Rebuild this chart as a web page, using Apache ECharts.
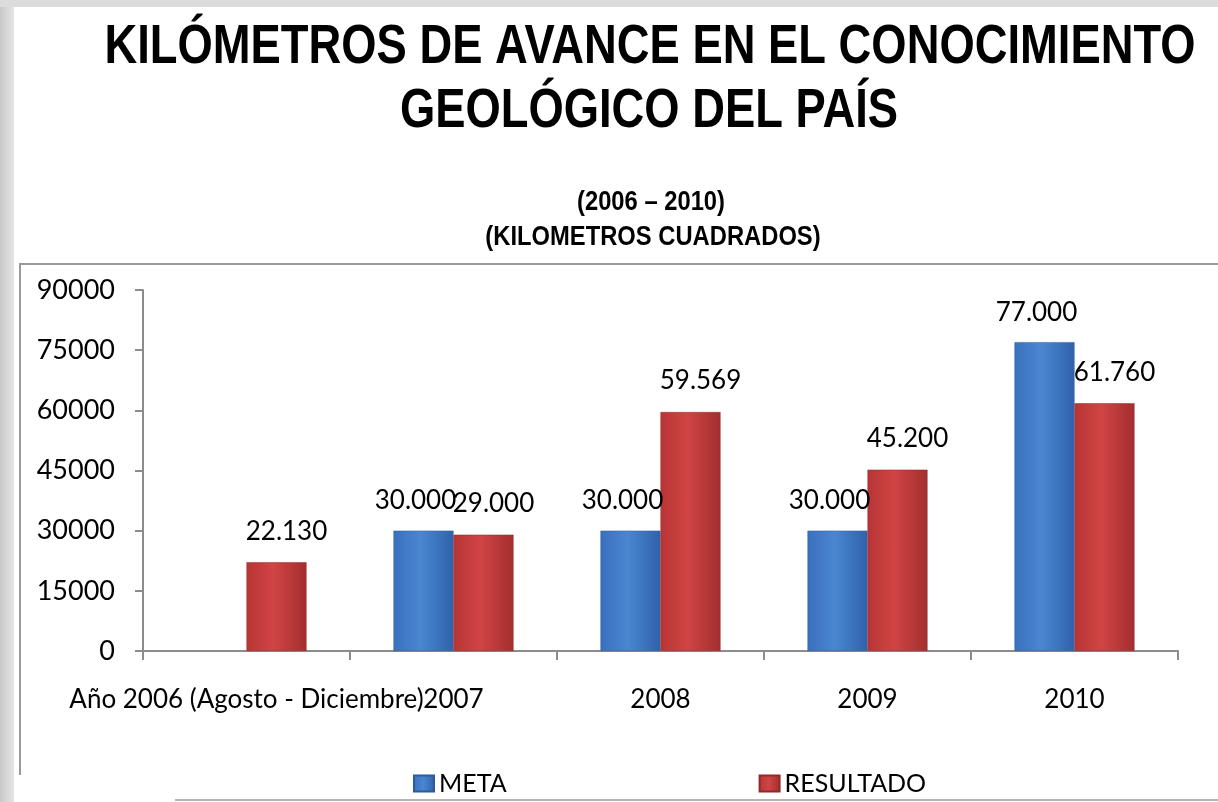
<!DOCTYPE html>
<html>
<head>
<meta charset="utf-8">
<script src="https://cdn.jsdelivr.net/npm/echarts@6/dist/echarts.min.js"></script>
<style>
html,body{margin:0;padding:0;background:#fff;}
#chart{width:1218px;height:802px;}
</style>
</head>
<body>
<div id="chart"></div>
<script>
const categories = ['Año 2006 (Agosto - Diciembre)', '2007', '2008', '2009', '2010'];
const metaValues = [null, 30000, 30000, 30000, 77000];
const resultadoValues = [22130, 29000, 59569, 45200, 61760];
const yTicks = { min: 0, max: 90000, interval: 15000 };
const titleLines = ['KILÓMETROS DE AVANCE EN EL CONOCIMIENTO', 'GEOLÓGICO DEL PAÍS'];
const subtitleLines = ['(2006 – 2010)', '(KILOMETROS CUADRADOS)'];

const fmt = v => {
  if (v == null) return '';
  return String(v).replace(/\B(?=(\d{3})+(?!\d))/g, '.');
};
const labelFont = 'Lato, "Open Sans", sans-serif';
const titleFont = '"Liberation Sans", Arial, sans-serif';

const blueGrad = new echarts.graphic.LinearGradient(0, 0, 1, 0, [
  {offset: 0, color: '#3a70bd'},
  {offset: 0.45, color: '#4a86d2'},
  {offset: 1, color: '#2f62aa'}
]);
const redGrad = new echarts.graphic.LinearGradient(0, 0, 1, 0, [
  {offset: 0, color: '#b83535'},
  {offset: 0.45, color: '#d04444'},
  {offset: 1, color: '#a32e2e'}
]);

function titleText(txt, x, y, size, sx) {
  return {
    type: 'text', x: x, y: y, scaleX: sx, originX: 0, originY: 0, z: 5,
    style: {text: txt, font: 'bold ' + size + 'px ' + titleFont, fill: '#000', align: 'center', verticalAlign: 'top'}
  };
}

const chart = echarts.init(document.getElementById('chart'), null, {renderer: 'canvas'});
chart.setOption({
  backgroundColor: '#ffffff',
  animation: false,
  graphic: [
    {type: 'rect', shape: {x: 0, y: 0, width: 14, height: 802}, style: {fill: new echarts.graphic.LinearGradient(0,0,1,0,[{offset:0,color:'#c8c8c8'},{offset:1,color:'#e6e6e6'}])}, z: 0},
    {type: 'rect', shape: {x: 0, y: 0, width: 1218, height: 7}, style: {fill: '#dcdcdc'}, z: 0},
    {type: 'polyline', shape: {points: [[20, 775], [20, 264], [1218, 264]]}, style: {stroke: '#9a9a9a', lineWidth: 2, fill: null}, z: 1},
    {type: 'line', shape: {x1: 175, y1: 800, x2: 1218, y2: 800}, style: {stroke: '#b5b5b5', lineWidth: 2}, z: 1},
    titleText(titleLines[0], 650, 20, 56, 0.81),
    titleText(titleLines[1], 649, 84, 56, 0.81),
    titleText(subtitleLines[0], 651, 189, 27, 0.88),
    titleText(subtitleLines[1], 653, 224, 27, 0.88)
  ],
  grid: {left: 143, right: 40, top: 290, bottom: 151, containLabel: false},
  legend: {
    bottom: 1,
    left: 408,
    itemGap: 252,
    itemWidth: 20,
    itemHeight: 16,
    icon: 'rect',
    textStyle: {fontFamily: labelFont, fontSize: 25, color: '#000'},
    data: ['META', 'RESULTADO']
  },
  xAxis: {
    type: 'category',
    data: categories,
    axisLine: {lineStyle: {color: '#8c8c8c', width: 2}},
    axisTick: {show: true, length: 9, lineStyle: {color: '#8c8c8c', width: 2}},
    axisLabel: {interval: 0, margin: 36, fontFamily: labelFont, fontSize: 26, color: '#000', overflow: 'none'}
  },
  yAxis: {
    type: 'value',
    min: yTicks.min, max: yTicks.max, interval: yTicks.interval,
    axisLine: {show: true, lineStyle: {color: '#8c8c8c', width: 2}},
    axisTick: {show: true, length: 8, lineStyle: {color: '#8c8c8c', width: 2}},
    splitLine: {show: false},
    axisLabel: {margin: 28, fontFamily: labelFont, fontSize: 27, color: '#000', formatter: v => String(v)}
  },
  series: [
    {
      name: 'META', type: 'bar', data: metaValues,
      barWidth: 60, barGap: '0%',
      itemStyle: {color: blueGrad, borderColor: '#2d5a9a', borderWidth: 0.5},
      label: {show: true, position: 'top', distance: 17, offset: [-8, 0], formatter: p => fmt(p.value), fontFamily: labelFont, fontSize: 26, color: '#000'}
    },
    {
      name: 'RESULTADO', type: 'bar', data: resultadoValues,
      barWidth: 60, barGap: '0%',
      itemStyle: {color: redGrad, borderColor: '#8e2a2a', borderWidth: 0.5},
      label: {show: true, position: 'top', distance: 18, offset: [10, 0], formatter: p => fmt(p.value), fontFamily: labelFont, fontSize: 26, color: '#000'}
    }
  ]
});
</script>
</body>
</html>
